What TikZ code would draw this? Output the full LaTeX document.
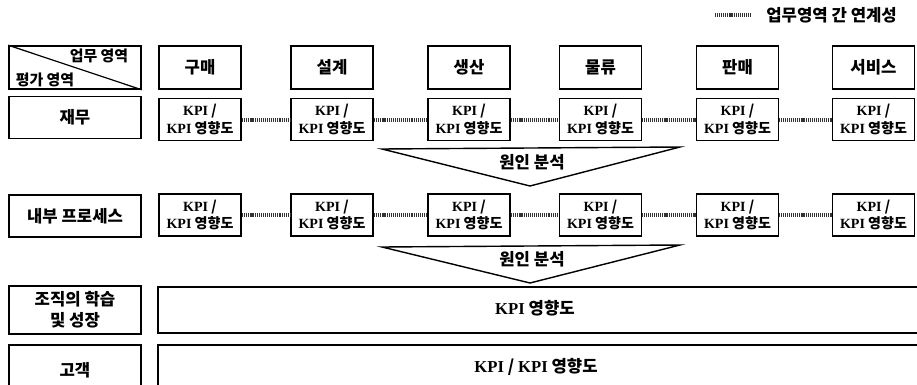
\documentclass[tikz,border=0pt]{standalone}
\usepackage{fontspec}
\setmainfont{Noto Sans CJK KR}
\newfontfamily\kpifont{Liberation Serif}
\usetikzlibrary{positioning, calc}
\newcommand{\kpi}{{\kpifont\bfseries KPI}}

\begin{document}
\begin{tikzpicture}[x=0.02cm, y=-0.02cm,
    area/.style={rectangle, draw, line width=0.9pt, minimum width=1.64cm, minimum height=0.86cm, text centered, font=\fontsize{9.5}{11}\selectfont\bfseries},
    kpibox/.style={rectangle, draw, line width=0.9pt, minimum width=1.64cm, minimum height=0.84cm, text centered, align=center, font=\fontsize{8}{10}\selectfont\bfseries, inner sep=1pt},
    rowlabel/.style={rectangle, draw, line width=0.9pt, minimum width=2.64cm, minimum height=0.84cm, text centered, align=center, font=\fontsize{9.5}{12}\selectfont\bfseries},
    wide/.style={rectangle, draw, line width=0.9pt, minimum width=15.5cm, minimum height=0.92cm, anchor=west},
    widetext/.style={font=\fontsize{9.5}{12}\selectfont\bfseries},
    link/.style={line width=2.2pt, black!80, dash pattern=on 0.6pt off 0.5pt},
    cause/.style={line width=0.8pt},
    small/.style={font=\fontsize{8.5}{10}\selectfont\bfseries, inner sep=1pt},
    causetext/.style={font=\fontsize{9.5}{11}\selectfont\bfseries}
]
\useasboundingbox (0,0) rectangle (917,385);

% Legend
\coordinate (legA) at (715,15);
\coordinate (legB) at (750,15);
\draw[link] (legA) -- (legB);
\node[font=\fontsize{9.5}{11}\selectfont\bfseries, anchor=west, inner sep=0pt] (legend) at (766,15) {업무영역 간 연계성};

% Corner cell
\node[rectangle, draw, line width=0.9pt, minimum width=2.64cm, minimum height=0.86cm] (corner) at (75,67.5) {};
\draw[line width=0.7pt] (corner.north west) -- (corner.south east);
\node[small] (work) at (99,56) {업무 영역};
\node[small] (eval) at (45,80) {평가 영역};

% Work areas
\node[area] (buy) at (200,67.5) {구매};
\node[area] (design) at (332,67.5) {설계};
\node[area] (prod) at (469,67.5) {생산};
\node[area] (logi) at (600.5,67.5) {물류};
\node[area] (sales) at (737.5,67.5) {판매};
\node[area] (service) at (873.5,67.5) {서비스};

% Finance row
\node[rowlabel] (finlabel) at (75,117.5) {재무};
\node[kpibox, below=0.16cm of buy] (fin1) {\kpi\ /\\\kpi\ 영향도};
\node[kpibox, below=0.16cm of design] (fin2) {\kpi\ /\\\kpi\ 영향도};
\node[kpibox, below=0.16cm of prod] (fin3) {\kpi\ /\\\kpi\ 영향도};
\node[kpibox, below=0.16cm of logi] (fin4) {\kpi\ /\\\kpi\ 영향도};
\node[kpibox, below=0.16cm of sales] (fin5) {\kpi\ /\\\kpi\ 영향도};
\node[kpibox, below=0.16cm of service] (fin6) {\kpi\ /\\\kpi\ 영향도};

% Cause analysis 1
\coordinate (c1l) at (382,149);
\coordinate (c1r) at (680,147);
\coordinate (c1b) at (530,186);
\draw[cause] (c1l) -- (c1r) -- (c1b) -- cycle;
\node[causetext] (cause1) at (532,162) {원인 분석};

% Internal process row
\node[rowlabel] (proclabel) at (75,216) {내부 프로세스};
\node[kpibox] (proc1) at (200,215) {\kpi\ /\\\kpi\ 영향도};
\node[kpibox] (proc2) at (332,215) {\kpi\ /\\\kpi\ 영향도};
\node[kpibox] (proc3) at (469,215) {\kpi\ /\\\kpi\ 영향도};
\node[kpibox] (proc4) at (600.5,215) {\kpi\ /\\\kpi\ 영향도};
\node[kpibox] (proc5) at (737.5,215) {\kpi\ /\\\kpi\ 영향도};
\node[kpibox] (proc6) at (873.5,215) {\kpi\ /\\\kpi\ 영향도};

% Cause analysis 2
\coordinate (c2l) at (382,247);
\coordinate (c2r) at (680,245);
\coordinate (c2b) at (530,283);
\draw[cause] (c2l) -- (c2r) -- (c2b) -- cycle;
\node[causetext] (cause2) at (532,259) {원인 분석};

% Learning and growth
\node[rowlabel, minimum height=0.92cm] (learnlabel) at (75,310) {조직의 학습\\및 성장};
\node[wide] (learnbox) at (157,310) {};
\node[widetext] (learntext) at (535,308) {\kpi\ 영향도};

% Customer
\node[rowlabel, minimum height=1.0cm] (custlabel) at (75,370) {고객};
\node[wide, minimum height=1.0cm] (custbox) at (157,370) {};
\node[widetext] (custtext) at (536,367) {\kpi\ / \kpi\ 영향도};

% Links between work areas
\draw[link] (fin1) -- (fin2);
\draw[link] (fin2) -- (fin3);
\draw[link] (fin3) -- (fin4);
\draw[link] (fin4) -- (fin5);
\draw[link] (fin5) -- (fin6);
\draw[link] (proc1) -- (proc2);
\draw[link] (proc2) -- (proc3);
\draw[link] (proc3) -- (proc4);
\draw[link] (proc4) -- (proc5);
\draw[link] (proc5) -- (proc6);
\end{tikzpicture}
\end{document}
